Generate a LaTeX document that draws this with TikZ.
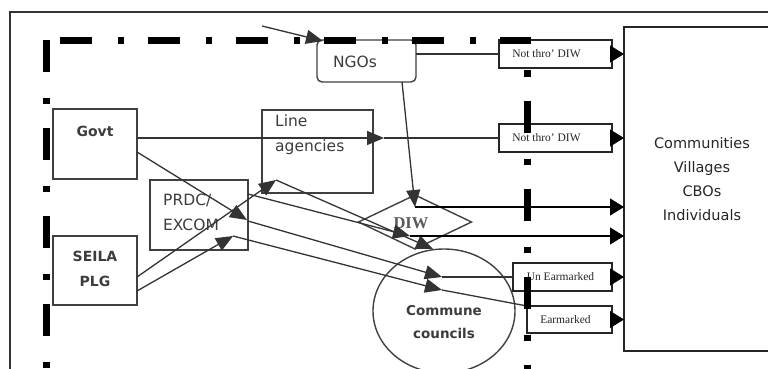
\documentclass[tikz,border=0pt]{standalone}
\usepackage{fontspec}
\newfontfamily\sansfam{DejaVu Sans}
\newfontfamily\serfam{Liberation Serif}
\usetikzlibrary{arrows.meta,shapes.geometric,calc}

\definecolor{ink}{HTML}{333333}
\definecolor{boxline}{HTML}{404040}
\definecolor{txt}{HTML}{3C3C3C}

\tikzset{
  box/.style={draw=boxline, line width=1.4pt, fill=white, inner sep=0pt, outer sep=0pt},
  tag/.style={draw=black!85, line width=1.6pt, fill=white, inner sep=0pt, outer sep=0pt},
  flow/.style={draw=ink, line width=1.3pt},
  arr/.style={flow, -{Triangle[length=17pt,width=14pt]}},
  bigarr/.style={draw=black, line width=1.3pt, -{Triangle[length=14pt,width=17pt]}},
  dashdot/.style={draw=black, line width=7pt, dash pattern=on 32pt off 26pt on 6pt off 24pt},
  sanstext/.style={inner sep=0pt, text=txt, font=\sansfam\fontsize{15.5}{25}\selectfont},
  boldtext/.style={inner sep=0pt, text=txt, font=\sansfam\bfseries\fontsize{14}{25}\selectfont},
  smalltext/.style={inner sep=0pt, text=black!85, font=\serfam\fontsize{11.5}{13}\selectfont},
}

\begin{document}
\begin{tikzpicture}[x=1pt,y=-1pt]
  \useasboundingbox (0,0) rectangle (768,369);
  \clip (0,0) rectangle (768,369);

  % outer frame
  \draw[line width=1.5pt, draw=ink] (10,12) rectangle (800,400);

  % boxes
  \node[box, minimum width=84pt, minimum height=70pt,
        label={[boldtext, yshift=13pt]center:Govt}] (govt) at (95,144) {};
  \node[box, minimum width=84pt, minimum height=69pt,
        label={[boldtext, align=center, yshift=2pt]center:{SEILA\\PLG}}] (seila) at (95,270.5) {};
  \node[box, minimum width=98pt, minimum height=70pt,
        label={[sanstext, align=left, anchor=west, xshift=13pt, yshift=3pt]west:{PRDC/\\EXCOM}}] (prdc) at (199,215) {};
  \node[box, minimum width=111pt, minimum height=83pt,
        label={[sanstext, align=left, anchor=west, xshift=13pt, yshift=17pt]west:{Line\\agencies}}] (line) at (317.5,151.5) {};
  \node[box, rounded corners=5pt, minimum width=99pt, minimum height=42pt,
        label={[sanstext, xshift=-11.5pt, yshift=-1pt]center:NGOs}] (ngos) at (366.5,61) {};
  \node[box, diamond, minimum width=113pt, minimum height=54pt,
        label={[inner sep=0pt, text=black!65, font=\serfam\bfseries\fontsize{16.5}{18}\selectfont, xshift=-4pt, yshift=-1pt]center:DIW}] (diw) at (415,222) {};
  \node[draw=boxline, line width=1.4pt, ellipse, inner sep=0pt, outer sep=0pt,
        minimum width=142pt, minimum height=124pt,
        label={[boldtext, font=\sansfam\bfseries\fontsize{13.5}{23}\selectfont, align=center, yshift=-11.5pt]center:{Commune\\councils}}] (cc) at (444,311) {};

  \node[tag, minimum width=113pt, minimum height=28pt,
        label={[smalltext, xshift=-9pt]center:Not thro’ DIW}] (nt1) at (555.5,54) {};
  \node[tag, minimum width=113pt, minimum height=28pt,
        label={[smalltext, xshift=-9pt]center:Not thro’ DIW}] (nt2) at (555.5,138) {};
  \node[tag, minimum width=99pt, minimum height=28pt,
        label={[smalltext, xshift=-2pt]center:Un Earmarked}] (unear) at (562.5,277) {};
  \node[tag, minimum width=85pt, minimum height=27pt,
        label={[smalltext, xshift=-4pt]center:Earmarked}] (ear) at (569.5,319.5) {};

  \node[draw=black!85, line width=1.5pt, inner sep=0pt, outer sep=0pt,
        minimum width=156pt, minimum height=324pt,
        label={[sanstext, text=black!85, font=\sansfam\fontsize{14.5}{24}\selectfont, align=center, yshift=10pt]center:{Communities\\Villages\\CBOs\\Individuals}}] (comm) at (702,189) {};

  % junction points
  \coordinate (ngoin)   at (262,26);
  \coordinate (dtop)    at ($(diw.north)+(0,12)$);
  \coordinate (govtout) at (govt.east |- nt2.west);
  \coordinate (linepass) at ($(line.east |- nt2.west)+(11,0)$);
  \coordinate (lhit)    at ($(line.south west)+(14,-13)$);
  \coordinate (pin)     at ($(prdc.south east)+(-15,-14)$);
  \coordinate (dlow)    at ($(diw.center)+(-5,14)$);
  \coordinate (ccup)    at ($(cc.center)+(-2,-34)$);
  \coordinate (cclow)   at ($(cc.center)+(-2,-21)$);
  \coordinate (cctop)   at ($(cc.north)+(-11,0)$);

  % NGO channel
  \draw[arr] (ngoin) -- ($(ngos.north west)+(6,1)$);
  \draw[flow] (ngos.east |- nt1.west) -- (nt1.west);
  \draw[bigarr] (nt1.east) -- (nt1.east -| comm.west);
  \draw[arr] ($(ngos.south east)+(-14,0)$) -- (dtop);
  \draw[bigarr] (dtop) -- (dtop -| comm.west);

  % government channel
  \draw[arr] (govtout) -- (linepass);
  \draw[flow] (linepass) -- (nt2.west);
  \draw[bigarr] (nt2.east) -- (nt2.east -| comm.west);
  \draw[arr] ($(govt.east)+(0,8)$) -- ($(prdc.east)+(-1,5)$);

  % SEILA channel
  \draw[arr] ($(seila.east)+(0,6.5)$) -- (lhit);
  \draw[arr] (lhit) -- (cctop);
  \draw[arr] ($(seila.east)+(0,20.5)$) -- (pin);

  % PRDC channel
  \draw[arr] ($(prdc.east)+(0,-21)$) -- (dlow);
  \draw[bigarr] (dlow) -- (dlow -| comm.west);
  \draw[arr] ($(prdc.east)+(0,6)$) -- (ccup);
  \draw[flow] (ccup) -- (unear.west);
  \draw[bigarr] (unear.east) -- (unear.east -| comm.west);
  \draw[arr] (pin) -- (cclow);
  \draw[flow] (cclow) -- (ear.north west);
  \draw[bigarr] (ear.east) -- (ear.east -| comm.west);

  % province boundary (dash-dot)
  \draw[dashdot] (60,40.5) -- (531,40.5);
  \draw[dashdot] (46.5,40) -- (46.5,380);
  \draw[dashdot, dash phase=24.5pt] (527,37) -- (527,380);
\end{tikzpicture}
\end{document}
